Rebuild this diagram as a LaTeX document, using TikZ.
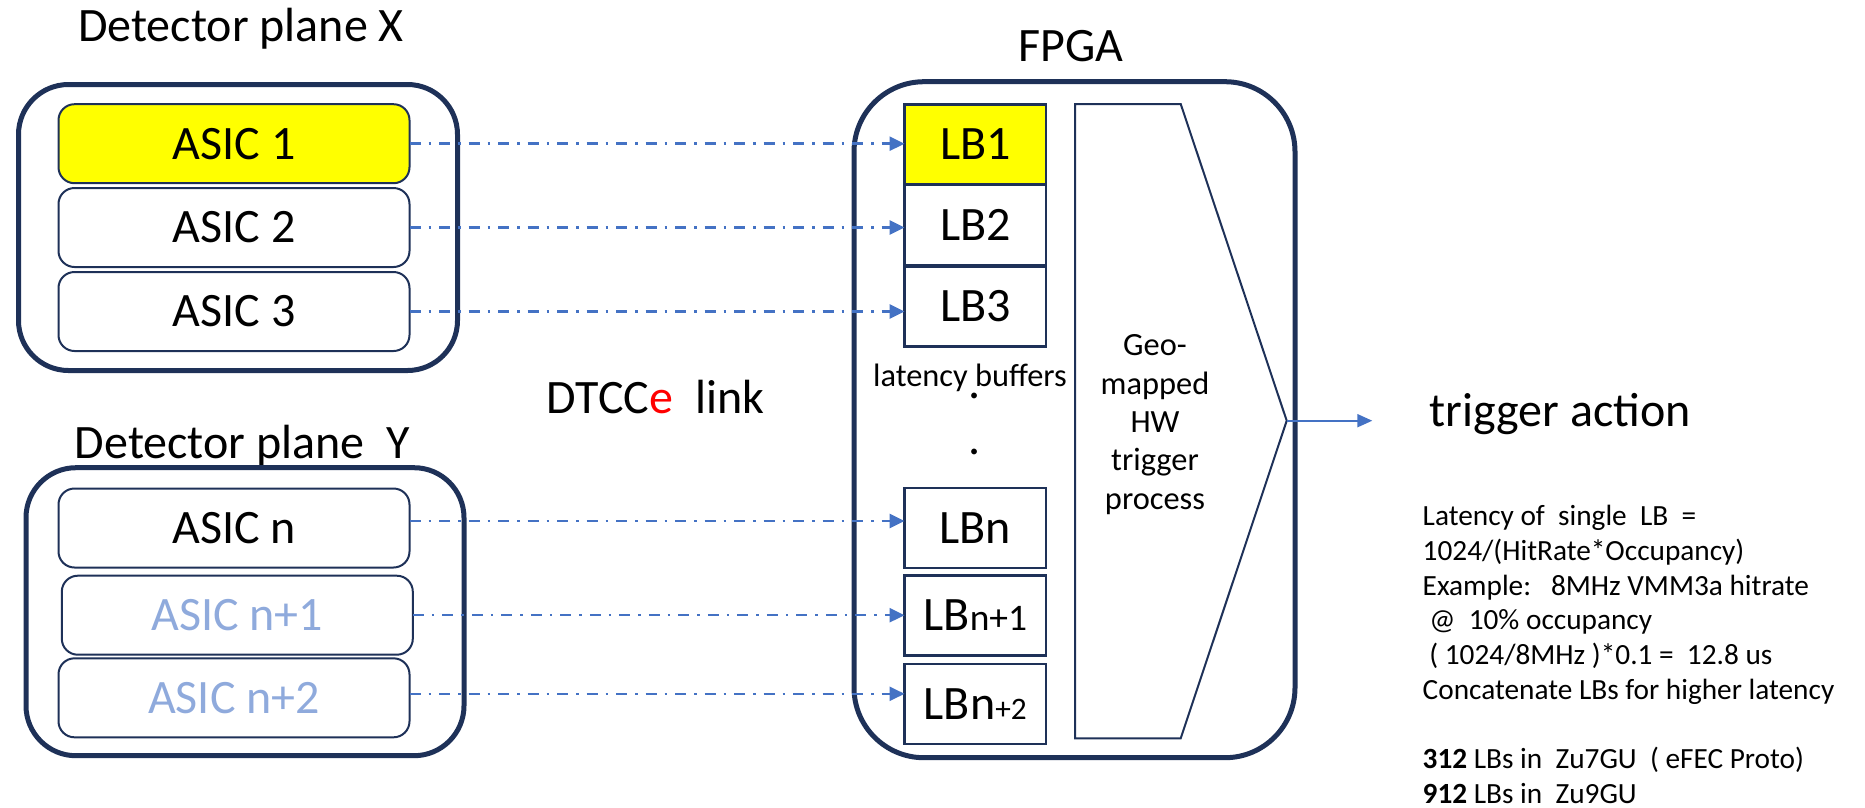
\documentclass[tikz,border=0pt]{standalone}
\usepackage{fontspec}
\setmainfont{Carlito}
\usetikzlibrary{arrows.meta,calc}

\definecolor{navy}{HTML}{1E3158}
\definecolor{linkblue}{HTML}{4472C4}
\definecolor{paleblue}{HTML}{8FAADC}
\definecolor{chipyellow}{HTML}{FFFF00}

\newcommand{\bigtext}{\fontsize{48}{58}\selectfont}
\newcommand{\midtext}{\fontsize{32.4}{38.3}\selectfont}
\newcommand{\notetext}{\fontsize{29.3}{34.7}\selectfont}

\tikzset{
  every node/.style={inner sep=0pt, outer sep=0pt},
  plane/.style={draw=navy, line width=5pt, rounded corners=50pt},
  asic/.style={draw=navy, line width=2pt, rounded corners=16pt,
    minimum width=351pt, minimum height=79pt, font=\bigtext},
  lbox/.style={draw=navy, line width=2.5pt,
    minimum width=141.5pt, minimum height=80pt, font=\bigtext},
  label/.style={font=\bigtext, anchor=base},
  link/.style={linkblue, line width=2.5pt,
    dash pattern=on 11pt off 8pt on 2.5pt off 8pt,
    -{Triangle[length=15pt,width=14pt]}},
}

\begin{document}
\begin{tikzpicture}[x=1pt, y=-1pt]
\useasboundingbox (0,0) rectangle (1865,807);

% ---- detector plane X ----
\node[label] (tx) at (241,41) {Detector plane X};
\node[plane, minimum width=439pt, minimum height=286pt] (px) at (238,227.5) {};
\node[asic, fill=chipyellow] (a1) at (234,143.7) {ASIC 1};
\node[asic] (a2) at (234,227.5) {ASIC 2};
\node[asic] (a3) at (234,311.5) {ASIC 3};

% ---- detector plane Y ----
\node[label] (ty) at (242.3,458.3) {Detector plane\ \ Y};
\node[plane, minimum width=438pt, minimum height=288pt] (py) at (245,611.7) {};
\node[asic] (an) at (234,528) {ASIC n};
\node[asic, text=paleblue] (an1) at (237.3,615.2) {ASIC n+1};
\node[asic, text=paleblue] (an2) at (234,697.8) {ASIC n+2};

% ---- link label ----
\node[label] (dtcc) at (655.5,413.3) {DTCC\textcolor{red}{e}\ \ link};

% ---- FPGA ----
\node[label] (fpgat) at (1071,61.7) {FPGA};
\node[draw=navy, line width=5pt, rounded corners=70pt,
      minimum width=441pt, minimum height=676pt] (fpga) at (1074.5,419.7) {};

\node[lbox, fill=chipyellow] (lb1) at (975.3,144.5) {LB1};
\node[lbox] (lb2) at (975.3,224.8) {LB2};
\node[lbox] (lb3) at (975.3,306.3) {LB3};
\node[font=\midtext, anchor=base] (lbcap) at (970,386.7) {latency buffers};
\node[font=\bigtext, anchor=base] (dot1) at (975,398) {.};
\node[font=\bigtext, anchor=base] (dot2) at (975,454.7) {.};
\node[lbox] (lbn) at (975.3,528) {LBn};
\node[lbox] (lbn1) at (975.3,615.3) {LB{\fontsize{37.5}{42}\selectfont n+1}};
\node[lbox] (lbn2) at (975.3,704.2) {LBn{\fontsize{31.3}{35}\selectfont +2}};

% geo-mapped trigger block (pentagon pointing right)
\coordinate (g1) at (1075,104);
\coordinate (g2) at (1180.7,104);
\coordinate (tip) at (1286.7,420.7);
\coordinate (g4) at (1180.7,738.3);
\coordinate (g5) at (1075,738.3);
\draw[navy, line width=2pt, line join=miter] (g1) -- (g2) -- (tip) -- (g4) -- (g5) -- cycle;
\node[font=\midtext, align=center] (geo) at (1155,424.5)
  {Geo-\\mapped\\HW\\trigger\\process};

% ---- links ----
\draw[link] (a1.east) -- (a1.east -| lb1.west);
\draw[link] (a2.east) -- (a2.east -| lb2.west);
\draw[link] (a3.east) -- (a3.east -| lb3.west);
\draw[link] ([yshift=7pt]an.east) -- ([yshift=7pt]an.east -| lbn.west);
\draw[link] (an1.east) -- (an1.east -| lbn1.west);
\draw[link] ([yshift=4pt]an2.east) -- ([yshift=4pt]an2.east -| lbn2.west);

% ---- output ----
\coordinate (act) at (1372.3,420.7);
\draw[linkblue, line width=2pt, -{Triangle[length=15pt,width=13pt]}] (tip) -- (act);
\node[label] (trig) at (1560,426.7) {trigger action};

% ---- notes ----
\node[font=\notetext, align=left, anchor=north west] (notes) at (1422.7,505.5)
  {Latency of\ \ single\ \ LB\ \ =\\
   1024/(HitRate*Occupancy)\\
   Example:\ \ \ 8MHz VMM3a hitrate\\
   \ @\ \ 10\% occupancy\\
   \ ( 1024/8MHz )*0.1 =\ \ 12.8 us\\
   Concatenate LBs for higher latency\\[34.7pt]
   \textbf{312} LBs in\ \ Zu7GU\ \ ( eFEC Proto)\\
   \textbf{912} LBs in\ \ Zu9GU};
\end{tikzpicture}
\end{document}
